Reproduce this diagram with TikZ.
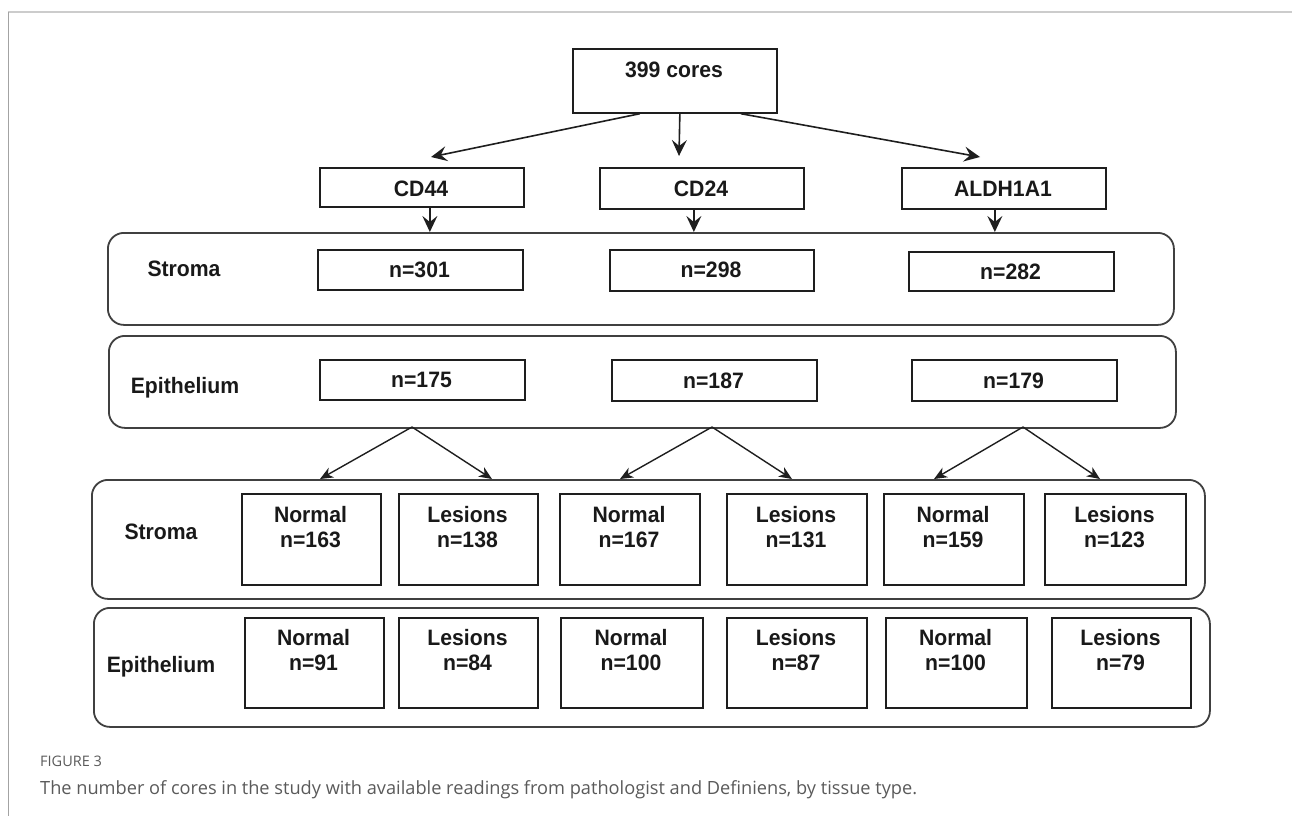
\documentclass[tikz,border=0pt]{standalone}
\usepackage{fontspec}
\setmainfont{Liberation Sans}
\newfontfamily\lblfont[FakeStretch=0.95]{Liberation Sans}
\newfontfamily\capfont{Open Sans}
\usetikzlibrary{arrows.meta,calc}
\definecolor{capgray}{HTML}{5A5A5A}
\definecolor{framegray}{HTML}{CCCCCC}
\definecolor{linec}{HTML}{1E1E1E}
\newcommand\mybox[5]{\node[box,minimum width={(#4)-(#2)},minimum height={(#5)-(#3)}] (#1) at (#2,#3) {};}
\newcommand\mypanel[5]{\node[panel,minimum width={(#4)-(#2)},minimum height={(#5)-(#3)}] (#1) at (#2,#3) {};}
\begin{document}
\begin{tikzpicture}[x=1pt,y=-1pt,
  box/.style={draw=linec,line width=1.7pt,rectangle,inner sep=0pt,anchor=north west},
  panel/.style={draw=linec!85!white,line width=1.8pt,rectangle,rounded corners=16pt,inner sep=0pt,anchor=north west},
  lbl/.style={font=\lblfont\fontsize{22.3}{25}\selectfont\bfseries,align=center,inner sep=0pt,text=black!90},
  bigarr/.style={draw=linec,line width=1.6pt,-{Stealth[length=16pt,width=15pt,inset=6pt]}},
  smallarr/.style={draw=linec,line width=1.4pt,-{Stealth[length=13pt,width=11pt,inset=4pt]}},
]
\useasboundingbox (0,0) rectangle (1292,816);
% frame
\draw[framegray,line width=2pt] (8,12.5) -- (1292,12.5);
\draw[framegray!80!black,line width=0.8pt] (8,12.5) -- (8,816);

% top level
\mybox{top}{572}{48}{776}{112}
\node[lbl,anchor=base] (ttop) at (674,77.5) {399 cores};
\mybox{cd44}{319}{167}{523}{206}
\node[lbl,anchor=base] (tcd44) at (421,196) {CD44};
\mybox{cd24}{599}{167}{803}{208}
\node[lbl,anchor=base] (tcd24) at (701,196) {CD24};
\mybox{aldh}{901}{167}{1105}{208}
\node[lbl,anchor=base] (taldh) at (1003,196) {ALDH1A1};

% panels
\mypanel{p1}{107}{232}{1173}{324}
\mypanel{p2}{108}{335}{1175}{427}
\mypanel{p3}{91}{479}{1204}{598}
\mypanel{p4}{93}{607}{1209}{726}

\node[lbl,anchor=base] (l1) at (184,276) {Stroma};
\node[lbl,anchor=base] (l2) at (185,393) {Epithelium};
\node[lbl,anchor=base] (l3) at (161,539) {Stroma};
\node[lbl,anchor=base] (l4) at (161,672) {Epithelium};

% row 1
\mybox{s1}{317}{249}{522}{289}
\node[lbl,anchor=base] (ts1) at (419.5,277.5) {n=301};
\mybox{s2}{609}{249}{813}{290}
\node[lbl,anchor=base] (ts2) at (711,277.5) {n=298};
\mybox{s3}{908}{251}{1113}{290}
\node[lbl,anchor=base] (ts3) at (1010.5,279.5) {n=282};
% row 2
\mybox{e1}{319}{359}{524}{399}
\node[lbl,anchor=base] (te1) at (421.5,387.5) {n=175};
\mybox{e2}{611}{359}{816}{400}
\node[lbl,anchor=base] (te2) at (713.5,388) {n=187};
\mybox{e3}{911}{359}{1116}{400}
\node[lbl,anchor=base] (te3) at (1013.5,388) {n=179};

% row 3
\mybox{a1}{241}{493}{380}{584}
\mybox{a2}{398}{493}{537}{584}
\mybox{a3}{559}{493}{699}{584}
\mybox{a4}{726}{493}{866}{584}
\mybox{a5}{883}{493}{1023}{584}
\mybox{a6}{1044}{493}{1185}{584}
\node[lbl,anchor=north] (ta1) at (310.5,506.5) {Normal\\n=163};
\node[lbl,anchor=north] (ta2) at (467.5,506.5) {Lesions\\n=138};
\node[lbl,anchor=north] (ta3) at (629,506.5) {Normal\\n=167};
\node[lbl,anchor=north] (ta4) at (796,506.5) {Lesions\\n=131};
\node[lbl,anchor=north] (ta5) at (953,506.5) {Normal\\n=159};
\node[lbl,anchor=north] (ta6) at (1114.5,506.5) {Lesions\\n=123};

% row 4
\mybox{b1}{244}{617}{383}{707}
\mybox{b2}{398}{617}{537}{707}
\mybox{b3}{560}{617}{702}{707}
\mybox{b4}{726}{617}{866}{707}
\mybox{b5}{885}{617}{1026}{707}
\mybox{b6}{1051}{617}{1190}{707}
\node[lbl,anchor=north] (tb1) at (313.5,629) {Normal\\n=91};
\node[lbl,anchor=north] (tb2) at (467.5,629) {Lesions\\n=84};
\node[lbl,anchor=north] (tb3) at (631,629) {Normal\\n=100};
\node[lbl,anchor=north] (tb4) at (796,629) {Lesions\\n=87};
\node[lbl,anchor=north] (tb5) at (955.5,629) {Normal\\n=100};
\node[lbl,anchor=north] (tb6) at (1120.5,629) {Lesions\\n=79};

% arrows from top
\coordinate (k1) at (431,157);
\coordinate (k2) at (679,156);
\coordinate (k3) at (980,157);
\draw[bigarr] ([xshift=-35pt]top.south) -- (k1);
\draw[bigarr] ([xshift=5pt]top.south) -- (k2);
\draw[bigarr] ([xshift=66pt]top.south) -- (k3);
\draw[bigarr] ([xshift=8pt]cd44.south) -- ([xshift=8pt]cd44.south |- p1.north);
\draw[bigarr] ([xshift=-8pt]cd24.south) -- ([xshift=-8pt]cd24.south |- p1.north);
\draw[bigarr] ([xshift=-9pt]aldh.south) -- ([xshift=-9pt]aldh.south |- p1.north);

% split arrows
\coordinate (x1) at (412,427);
\coordinate (x2) at (712,427);
\coordinate (x3) at (1023,427);
\coordinate (y1) at (320,479);
\coordinate (y2) at (492,479);
\coordinate (y3) at (620,479);
\coordinate (y4) at (792,479);
\coordinate (y5) at (934,479);
\coordinate (y6) at (1100,479);
\draw[smallarr] (x1) -- (y1);
\draw[smallarr] (x1) -- (y2);
\draw[smallarr] (x2) -- (y3);
\draw[smallarr] (x2) -- (y4);
\draw[smallarr] (x3) -- (y5);
\draw[smallarr] (x3) -- (y6);

% caption
\node[anchor=base west,inner sep=0pt,text=capgray,font=\capfont\fontsize{14.5}{17}\selectfont] (fig) at (40,766) {FIGURE 3};
\node[anchor=base west,inner sep=0pt,text=capgray,font=\capfont\fontsize{18.2}{22}\selectfont] (cap) at (40,794) {The number of cores in the study with available readings from pathologist and Definiens, by tissue type.};
\end{tikzpicture}
\end{document}
